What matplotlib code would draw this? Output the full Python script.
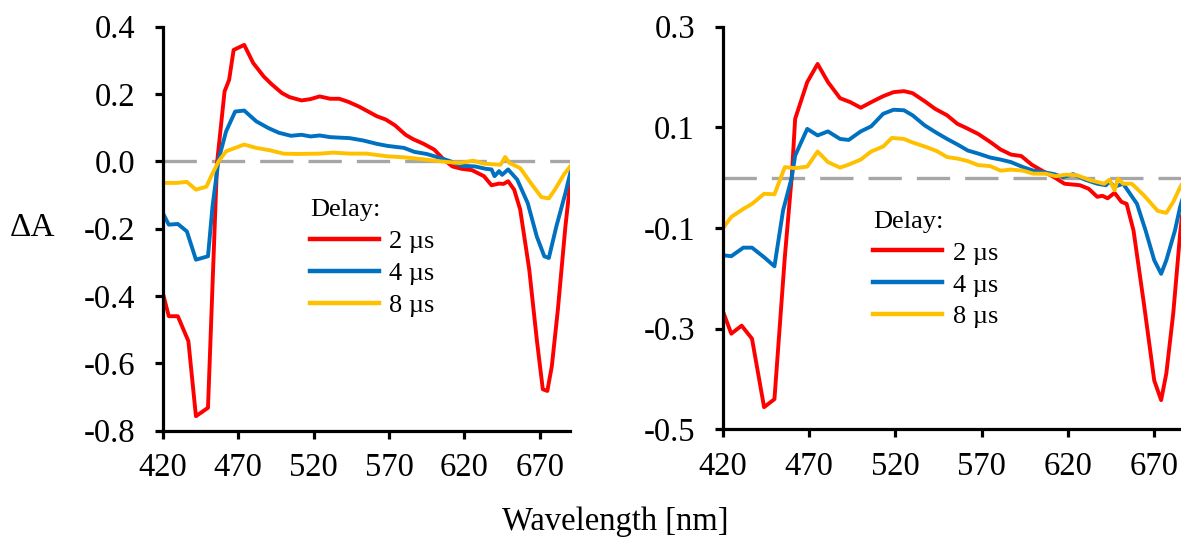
import matplotlib
matplotlib.use("Agg")
import matplotlib.pyplot as plt
from matplotlib.ticker import FormatStrFormatter

plt.rcParams['font.family'] = ['Liberation Serif', 'DejaVu Serif']
plt.rcParams['axes.unicode_minus'] = False

# transient absorption spectra, first sample
wl_a_2us = [420, 424, 430, 437, 442, 450, 456, 461, 464, 467, 474, 480, 487, 492, 499, 504,
            512, 518, 524, 531, 537, 543, 550, 555, 562, 568, 574, 581, 586, 593, 600, 606,
            612, 618, 625, 633, 638, 643, 646, 649, 653, 657, 663, 668, 672, 675, 678, 682,
            687, 691]
da_a_2us = [-0.39, -0.46, -0.46, -0.534, -0.757, -0.732, -0.005, 0.208, 0.242, 0.331, 0.346,
            0.292, 0.252, 0.23, 0.203, 0.191, 0.181, 0.185, 0.193, 0.186, 0.186, 0.177, 0.163,
            0.151, 0.134, 0.124, 0.107, 0.079, 0.066, 0.052, 0.035, 0.007, -0.015, -0.022,
            -0.026, -0.044, -0.071, -0.066, -0.067, -0.059, -0.084, -0.143, -0.321, -0.529,
            -0.677, -0.682, -0.608, -0.44, -0.193, -0.03]

wl_a_4us = [420, 424, 430, 436, 442, 450, 453, 457, 462, 468, 474, 482, 490, 497, 505, 512,
            518, 524, 531, 544, 553, 562, 569, 580, 587, 595, 604, 611, 618, 627, 634, 638,
            640, 643, 645, 649, 655, 662, 668, 673, 676, 681, 687, 691]
da_a_4us = [-0.153, -0.188, -0.186, -0.208, -0.292, -0.282, -0.134, 0.005, 0.089, 0.148,
            0.151, 0.119, 0.099, 0.085, 0.076, 0.079, 0.074, 0.077, 0.072, 0.069, 0.062, 0.052,
            0.046, 0.04, 0.028, 0.022, 0.01, 0.0, -0.013, -0.015, -0.022, -0.024, -0.044,
            -0.029, -0.04, -0.024, -0.054, -0.124, -0.223, -0.282, -0.287, -0.193, -0.094,
            -0.02]

wl_a_8us = [420, 429, 436, 442, 449, 452, 457, 462, 468, 474, 482, 491, 500, 509, 524, 533,
            544, 555, 569, 580, 593, 604, 617, 626, 633, 644, 647, 650, 657, 664, 671, 676,
            680, 686, 691]
da_a_8us = [-0.064, -0.064, -0.061, -0.084, -0.075, -0.045, 0.0, 0.03, 0.04, 0.05, 0.04,
            0.033, 0.023, 0.022, 0.023, 0.026, 0.023, 0.023, 0.015, 0.012, 0.006, 0.0, -0.005,
            0.002, -0.007, -0.01, 0.013, -0.005, -0.02, -0.064, -0.106, -0.11, -0.084, -0.039,
            -0.01]

# second sample
wl_b_2us = [420, 425, 431, 437, 444, 450, 456, 460, 462, 469, 475, 481, 488, 494, 500, 506,
            513, 519, 525, 530, 537, 543, 550, 556, 561, 568, 575, 581, 587, 593, 599, 605,
            612, 618, 627, 632, 637, 640, 643, 647, 651, 654, 658, 664, 670, 674, 677, 681,
            685, 690]
da_b_2us = [-0.264, -0.31, -0.294, -0.32, -0.456, -0.44, -0.158, 0.001, 0.117, 0.19, 0.226,
            0.19, 0.158, 0.15, 0.139, 0.15, 0.162, 0.17, 0.172, 0.168, 0.152, 0.137, 0.124,
            0.107, 0.099, 0.087, 0.071, 0.056, 0.046, 0.043, 0.026, 0.014, 0.001, -0.012,
            -0.015, -0.022, -0.038, -0.036, -0.041, -0.03, -0.048, -0.052, -0.105, -0.25,
            -0.403, -0.442, -0.389, -0.27, -0.111, 0.05]

wl_b_4us = [420, 425, 432, 437, 444, 450, 455, 460, 462, 469, 475, 481, 488, 493, 500, 506,
            513, 519, 525, 530, 537, 544, 550, 556, 562, 568, 575, 581, 587, 594, 600, 606,
            612, 617, 623, 630, 637, 642, 644, 647, 652, 660, 665, 670, 674, 677, 682, 685,
            690]
da_b_4us = [-0.154, -0.156, -0.139, -0.139, -0.158, -0.176, -0.065, 0.0, 0.044, 0.097, 0.084,
            0.092, 0.077, 0.075, 0.092, 0.102, 0.127, 0.135, 0.134, 0.124, 0.104, 0.089, 0.077,
            0.066, 0.054, 0.048, 0.04, 0.036, 0.031, 0.021, 0.014, 0.011, 0.007, 0.001, 0.007,
            -0.004, -0.012, -0.015, -0.008, -0.018, -0.012, -0.052, -0.105, -0.164, -0.191,
            -0.164, -0.105, -0.058, 0.0]

wl_b_8us = [420, 425, 432, 437, 444, 450, 456, 462, 469, 475, 481, 488, 493, 500, 506, 513,
            518, 525, 530, 537, 544, 550, 556, 562, 568, 575, 581, 587, 594, 600, 607, 613,
            619, 625, 633, 641, 644, 647, 649, 652, 657, 664, 672, 677, 681, 685, 690]
da_b_8us = [-0.101, -0.078, -0.062, -0.052, -0.032, -0.033, 0.021, 0.019, 0.022, 0.052, 0.031,
            0.02, 0.026, 0.036, 0.052, 0.062, 0.079, 0.077, 0.07, 0.062, 0.053, 0.041, 0.038,
            0.033, 0.025, 0.023, 0.014, 0.016, 0.014, 0.008, 0.008, 0.003, 0.006, 0.005,
            -0.005, -0.012, -0.004, -0.025, -0.002, -0.012, -0.012, -0.035, -0.066, -0.07,
            -0.048, -0.019, 0.01]

labels = ['2 µs', '4 µs', '8 µs']
colors = ['#FF0000', '#0070C0', '#FFC000']
xticks = [420, 470, 520, 570, 620, 670]
yticks_a = [0.4, 0.2, 0.0, -0.2, -0.4, -0.6, -0.8]
yticks_b = [0.3, 0.1, -0.1, -0.3, -0.5]

fig = plt.figure(figsize=(11.81, 5.42), dpi=100)
ax1 = fig.add_axes([0.1378, 0.2054, 0.3448, 0.7453])
ax2 = fig.add_axes([0.6119, 0.2079, 0.3881, 0.7428])


def draw_panel(ax, series, xlim, ylim, yticks, legend_pos):
    ax.axhline(0, color='#A6A6A6', lw=2.4, ls=(0, (10, 4.5)), zorder=1)
    handles = []
    for (wl, da), lab, c in zip(series, labels, colors):
        h, = ax.plot(wl, da, color=c, lw=2.8, label=lab, zorder=2)
        handles.append(h)
    ax.set_xlim(*xlim)
    ax.set_ylim(*ylim)
    ax.set_xticks(xticks)
    ax.set_yticks(yticks)
    ax.yaxis.set_major_formatter(FormatStrFormatter('%.1f'))
    for s in ['top', 'right']:
        ax.spines[s].set_visible(False)
    for s in ['left', 'bottom']:
        ax.spines[s].set_linewidth(2.3)
    ax.tick_params(axis='both', direction='out', length=6, width=2.3, labelsize=23.5)
    ax.tick_params(axis='y', pad=14)
    ax.tick_params(axis='x', pad=10)
    leg = ax.legend(handles=handles, title='Delay:', loc='upper left',
                    bbox_to_anchor=legend_pos, frameon=False, fontsize=19,
                    title_fontsize=19, handlelength=2.6, handletextpad=0.4,
                    labelspacing=0.32, borderpad=0, borderaxespad=0, alignment='left')
    for line in leg.get_lines():
        line.set_linewidth(3.2)


draw_panel(ax1, [(wl_a_2us, da_a_2us), (wl_a_4us, da_a_4us), (wl_a_8us, da_a_8us)],
           (420, 690), (-0.8, 0.4), yticks_a, (0.362, 0.573))
draw_panel(ax2, [(wl_b_2us, da_b_2us), (wl_b_4us, da_b_4us), (wl_b_8us, da_b_8us)],
           (420, 685.5), (-0.5, 0.3), yticks_b, (0.329, 0.543))

fig.text(10 / 1181, 1 - 228 / 542, 'ΔA', fontsize=24, ha='left', va='center')
fig.text(615 / 1181, 1 - 522 / 542, 'Wavelength [nm]', fontsize=23.5, ha='center', va='center')

fig.savefig('out.png', dpi=100)
